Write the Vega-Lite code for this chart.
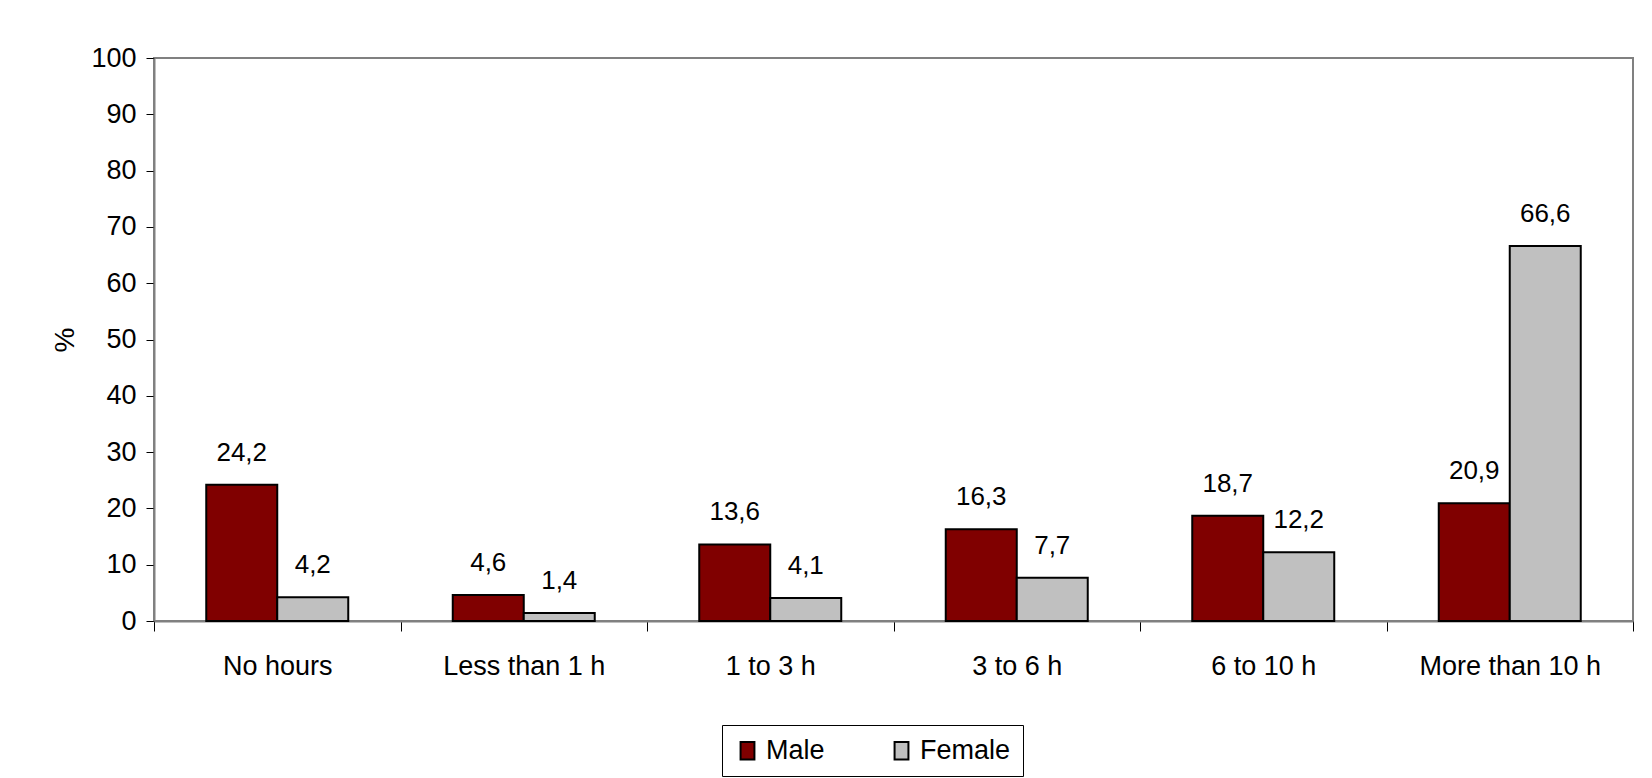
{
  "$schema": "https://vega.github.io/schema/vega-lite/v6.json",
  "autosize": {"type": "none"},
  "width": 1479,
  "height": 563,
  "padding": {"left": 154, "top": 58, "right": 19, "bottom": 157},
  "background": "white",
  "config": {
    "locale": {"number": {"decimal": ",", "thousands": ".", "grouping": [3], "currency": ["", ""]}},
    "font": "Liberation Sans",
    "view": {"stroke": "#808080", "strokeWidth": 2}
  },
  "data": {
    "values": [
      {"hours": "No hours", "sex": "Male", "pct": 24.2},
      {"hours": "No hours", "sex": "Female", "pct": 4.2},
      {"hours": "Less than 1 h", "sex": "Male", "pct": 4.6},
      {"hours": "Less than 1 h", "sex": "Female", "pct": 1.4},
      {"hours": "1 to 3 h", "sex": "Male", "pct": 13.6},
      {"hours": "1 to 3 h", "sex": "Female", "pct": 4.1},
      {"hours": "3 to 6 h", "sex": "Male", "pct": 16.3},
      {"hours": "3 to 6 h", "sex": "Female", "pct": 7.7},
      {"hours": "6 to 10 h", "sex": "Male", "pct": 18.7},
      {"hours": "6 to 10 h", "sex": "Female", "pct": 12.2},
      {"hours": "More than 10 h", "sex": "Male", "pct": 20.9},
      {"hours": "More than 10 h", "sex": "Female", "pct": 66.6}
    ]
  },
  "encoding": {
    "x": {
      "field": "hours", "type": "nominal",
      "sort": ["No hours", "Less than 1 h", "1 to 3 h", "3 to 6 h", "6 to 10 h", "More than 10 h"],
      "scale": {"paddingInner": 0, "paddingOuter": 0},
      "axis": {
        "title": null, "labelAngle": 0, "labelFontSize": 27, "labelColor": "black",
        "labelPadding": 22, "tickBand": "extent", "tickSize": 10, "tickColor": "black",
        "domainColor": "#808080", "domainWidth": 2, "labelLimit": 300
      }
    },
    "xOffset": {
      "field": "sex", "type": "nominal", "sort": ["Male", "Female"],
      "scale": {"paddingInner": 0, "paddingOuter": 0.736}
    },
    "y": {
      "field": "pct", "type": "quantitative",
      "scale": {"domain": [0, 100], "nice": false},
      "axis": {
        "title": "%", "titleFontSize": 28, "titleFontWeight": "normal", "titleColor": "black",
        "titlePadding": 11,
        "values": [0, 10, 20, 30, 40, 50, 60, 70, 80, 90, 100],
        "labelFontSize": 27, "labelColor": "black", "labelPadding": 10,
        "tickSize": 8, "tickColor": "black", "domainColor": "#808080", "domainWidth": 2,
        "grid": false
      }
    }
  },
  "layer": [
    {
      "mark": {"type": "bar", "stroke": "black", "strokeWidth": 2},
      "encoding": {
        "color": {
          "field": "sex", "type": "nominal",
          "sort": ["Male", "Female"],
          "scale": {"domain": ["Male", "Female"], "range": ["#800000", "#C0C0C0"]},
          "legend": {
            "title": null, "orient": "none", "direction": "horizontal",
            "legendX": 568, "legendY": 667,
            "strokeColor": "black", "fillColor": "white", "padding": 12,
            "labelFontSize": 27, "labelColor": "black", "labelOffset": 5,
            "symbolType": "M-0.8,-1H0.8V1H-0.8Z", "symbolSize": 300,
            "symbolStrokeColor": "black", "symbolStrokeWidth": 2,
            "columnPadding": 63
          }
        }
      }
    },
    {
      "mark": {"type": "text", "baseline": "alphabetic", "dy": -24, "fontSize": 26, "color": "black"},
      "encoding": {
        "text": {"field": "pct", "type": "quantitative", "format": ".1f"}
      }
    }
  ]
}
